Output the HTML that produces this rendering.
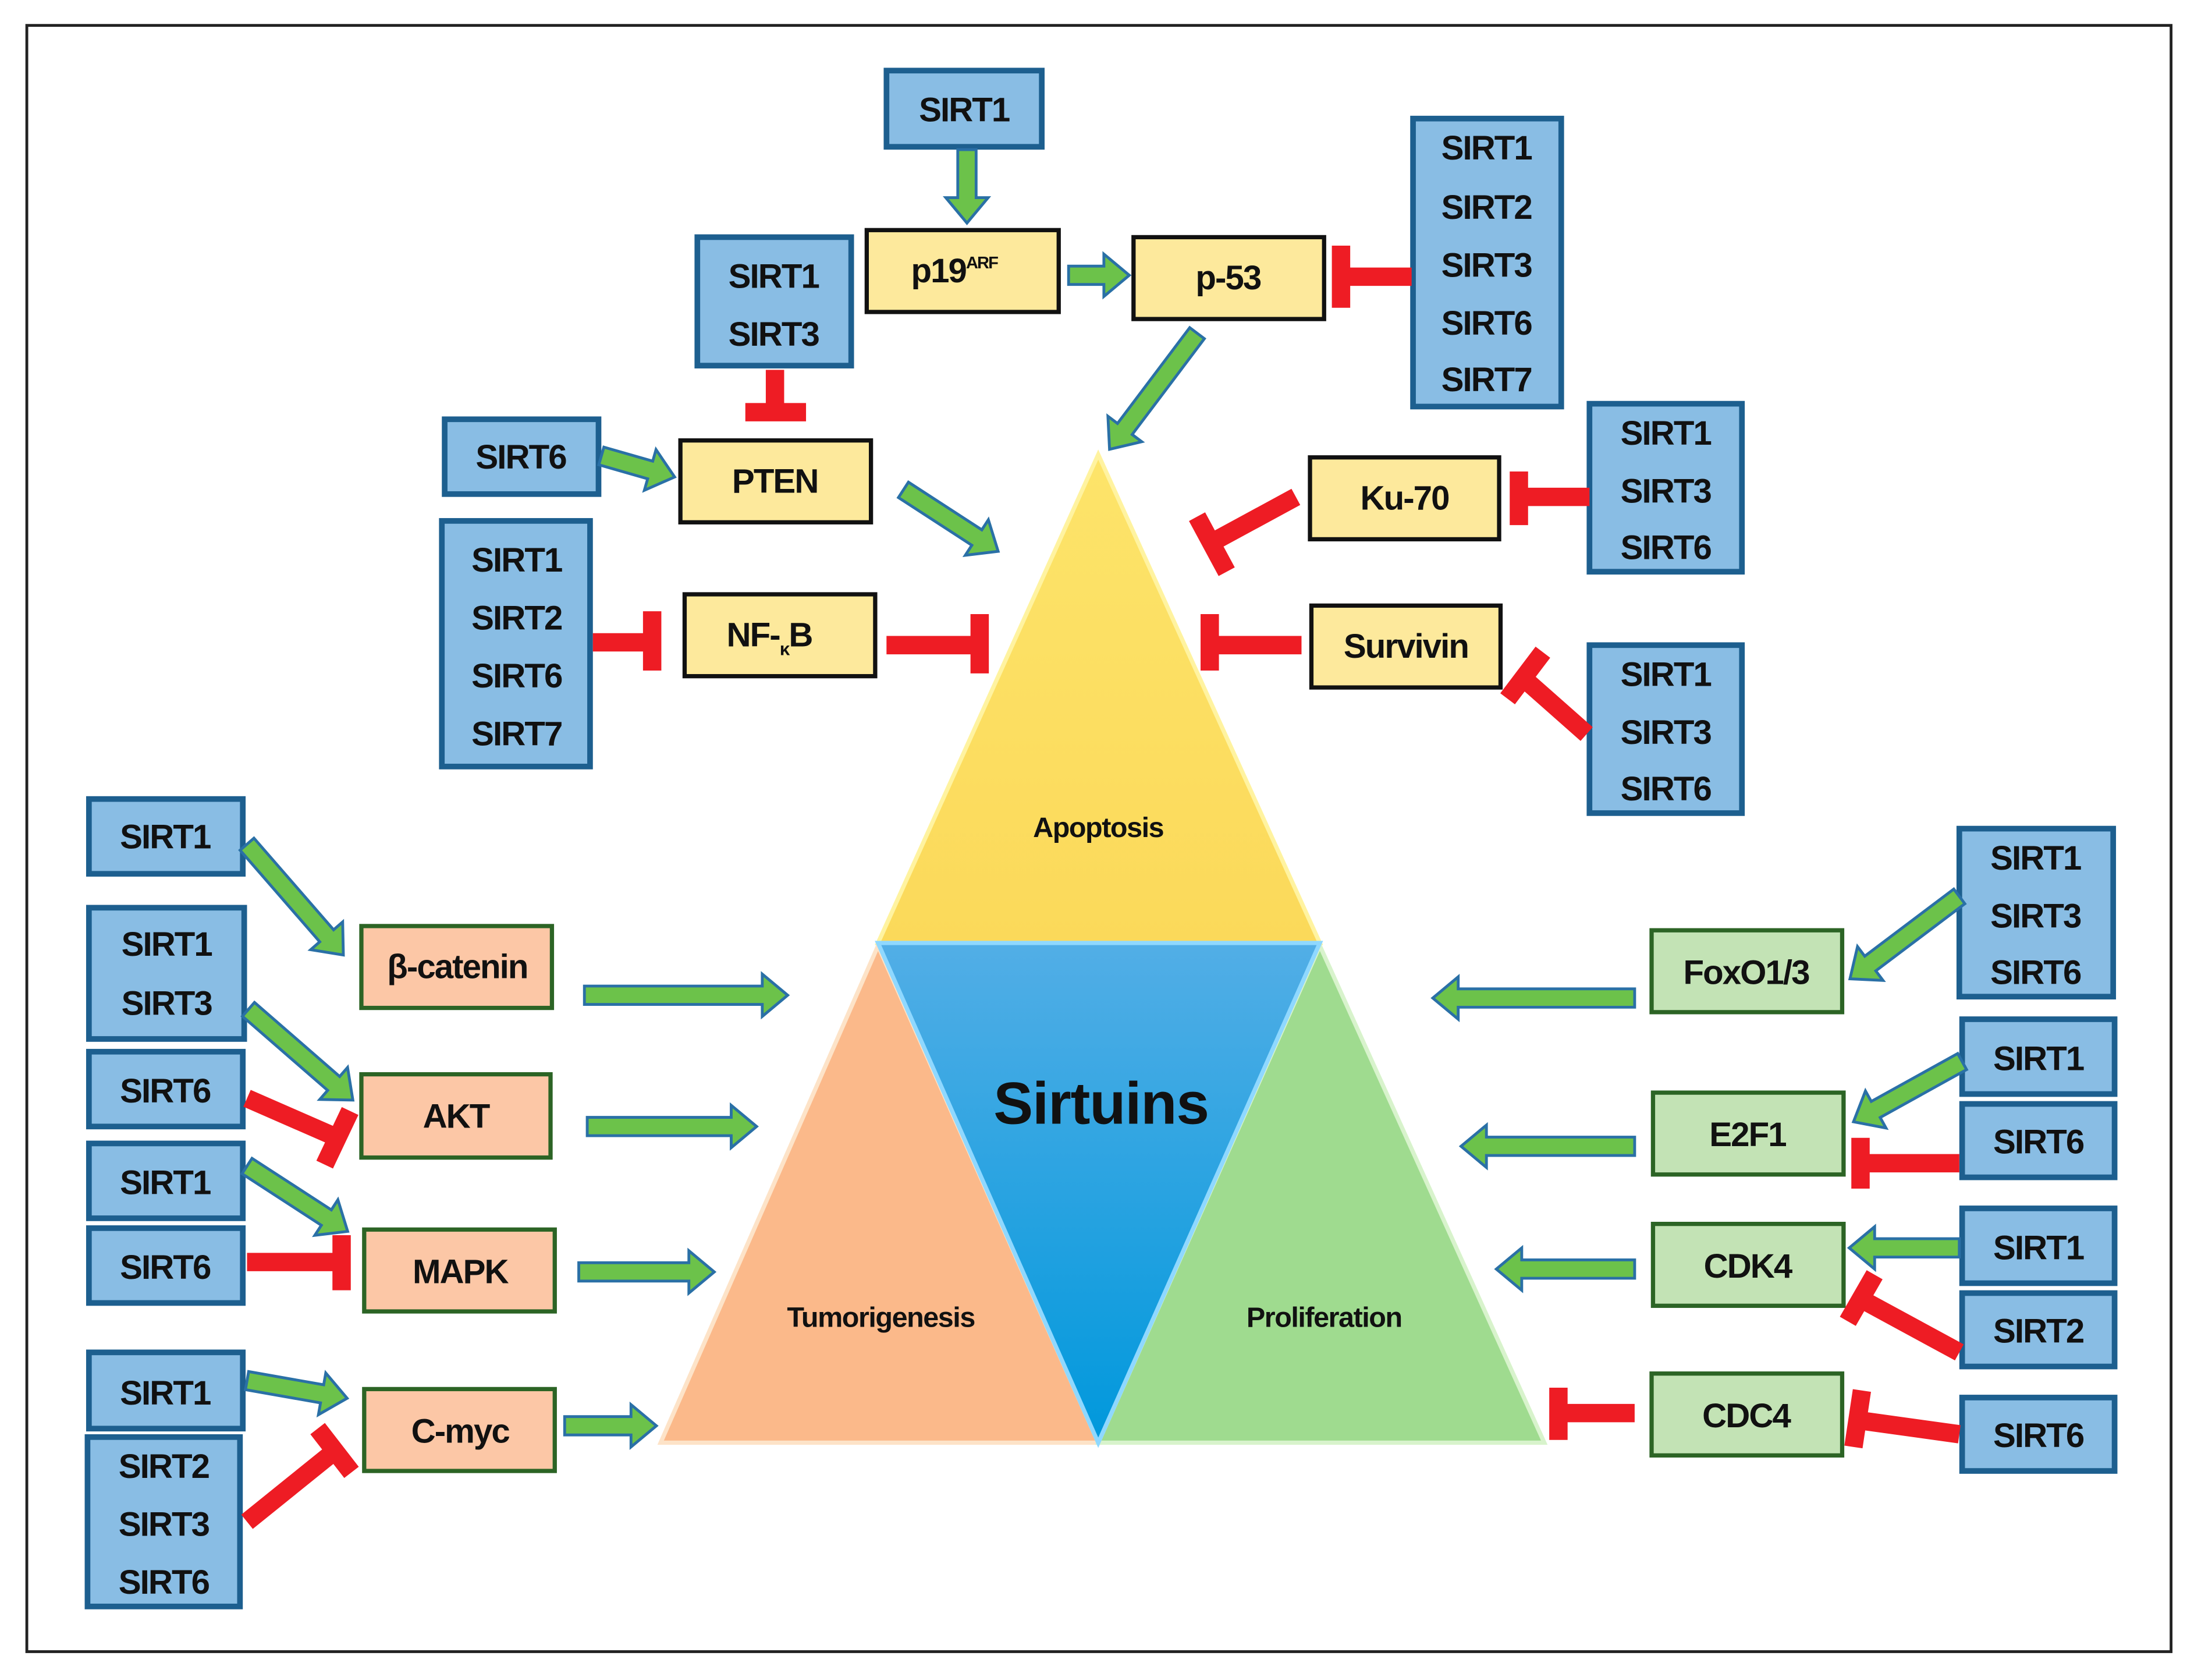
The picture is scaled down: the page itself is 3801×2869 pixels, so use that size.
<!DOCTYPE html>
<html><head><meta charset="utf-8"><style>
html,body{margin:0;padding:0;background:#fff;}
svg{display:block;}
text{font-family:"Liberation Sans",sans-serif;font-weight:bold;fill:#111;}
.b{fill:#89bde4;stroke:#1d5f8f;stroke-width:4;}
.y{fill:#fde99c;stroke:#111;stroke-width:3;}
.s{fill:#fcc7a6;stroke:#2c6425;stroke-width:3;}
.g{fill:#c3e3b5;stroke:#2c6425;stroke-width:3;}
.ar{fill:#6cc24a;stroke:#2a70a6;stroke-width:2;}
.r{stroke:#ee1c24;stroke-width:13;fill:none;}
.t{font-size:24px;text-anchor:middle;letter-spacing:-0.8px;}
</style></head><body>
<svg width="3801" height="2869" viewBox="0 0 1567 1183" preserveAspectRatio="none" xmlns="http://www.w3.org/2000/svg">
<defs>
<linearGradient id="gy" x1="0" y1="0" x2="0" y2="1"><stop offset="0" stop-color="#fde46a"/><stop offset="1" stop-color="#fbd95a"/></linearGradient>
<linearGradient id="gb" x1="0" y1="0" x2="0" y2="1"><stop offset="0" stop-color="#52aee6"/><stop offset="1" stop-color="#0098dc"/></linearGradient>
</defs>
<rect x="19" y="18" width="1519" height="1152" fill="#fff" stroke="#222" stroke-width="2"/>
<polygon points="778,322 935,668 622,668" fill="url(#gy)" stroke="#fff3a0" stroke-width="3"/>
<polygon points="622,670 778,1022 468,1022" fill="#fbb98a" stroke="#fde3c8" stroke-width="3"/>
<polygon points="935,670 1094,1022 778,1022" fill="#9fdb8f" stroke="#d8f3cc" stroke-width="3"/>
<polygon points="622,668 935,668 778,1022" fill="url(#gb)" stroke="#8fd8ff" stroke-width="3"/>
<text x="778" y="593" style="font-size:20px;text-anchor:middle;letter-spacing:-0.6px">Apoptosis</text>
<text x="780" y="796" style="font-size:42px;text-anchor:middle;letter-spacing:-0.5px">Sirtuins</text>
<text x="624" y="940" style="font-size:20px;text-anchor:middle;letter-spacing:-0.6px">Tumorigenesis</text>
<text x="938" y="940" style="font-size:20px;text-anchor:middle;letter-spacing:-0.6px">Proliferation</text>

<rect class="b" x="628" y="50" width="110" height="54"/><text class="t" x="683" y="86">SIRT1</text>
<rect class="b" x="494" y="168" width="109" height="91"/><text class="t" x="548" y="204">SIRT1</text><text class="t" x="548" y="245">SIRT3</text>
<rect class="b" x="315" y="297" width="109" height="53"/><text class="t" x="369" y="332">SIRT6</text>
<rect class="b" x="313" y="369" width="105" height="174"/><text class="t" x="366" y="405">SIRT1</text><text class="t" x="366" y="446">SIRT2</text><text class="t" x="366" y="487">SIRT6</text><text class="t" x="366" y="528">SIRT7</text>
<rect class="b" x="1001" y="84" width="105" height="204"/><text class="t" x="1053" y="113">SIRT1</text><text class="t" x="1053" y="155">SIRT2</text><text class="t" x="1053" y="196">SIRT3</text><text class="t" x="1053" y="237">SIRT6</text><text class="t" x="1053" y="277">SIRT7</text>
<rect class="b" x="1126" y="286" width="108" height="119"/><text class="t" x="1180" y="315">SIRT1</text><text class="t" x="1180" y="356">SIRT3</text><text class="t" x="1180" y="396">SIRT6</text>
<rect class="b" x="1126" y="457" width="108" height="119"/><text class="t" x="1180" y="486">SIRT1</text><text class="t" x="1180" y="527">SIRT3</text><text class="t" x="1180" y="567">SIRT6</text>
<rect class="b" x="63" y="566" width="109" height="53"/><text class="t" x="117" y="601">SIRT1</text>
<rect class="b" x="63" y="643" width="110" height="93"/><text class="t" x="118" y="677">SIRT1</text><text class="t" x="118" y="719">SIRT3</text>
<rect class="b" x="63" y="745" width="109" height="53"/><text class="t" x="117" y="781">SIRT6</text>
<rect class="b" x="63" y="810" width="109" height="53"/><text class="t" x="117" y="846">SIRT1</text>
<rect class="b" x="63" y="870" width="109" height="53"/><text class="t" x="117" y="906">SIRT6</text>
<rect class="b" x="63" y="958" width="109" height="54"/><text class="t" x="117" y="995">SIRT1</text>
<rect class="b" x="62" y="1018" width="108" height="120"/><text class="t" x="116" y="1047">SIRT2</text><text class="t" x="116" y="1088">SIRT3</text><text class="t" x="116" y="1129">SIRT6</text>
<rect class="b" x="1388" y="587" width="109" height="119"/><text class="t" x="1442" y="616">SIRT1</text><text class="t" x="1442" y="657">SIRT3</text><text class="t" x="1442" y="697">SIRT6</text>
<rect class="b" x="1390" y="722" width="108" height="53"/><text class="t" x="1444" y="758">SIRT1</text>
<rect class="b" x="1390" y="782" width="108" height="52"/><text class="t" x="1444" y="817">SIRT6</text>
<rect class="b" x="1390" y="856" width="108" height="53"/><text class="t" x="1444" y="892">SIRT1</text>
<rect class="b" x="1390" y="916" width="108" height="52"/><text class="t" x="1444" y="951">SIRT2</text>
<rect class="b" x="1390" y="990" width="108" height="52"/><text class="t" x="1444" y="1025">SIRT6</text>

<rect class="y" x="614" y="163" width="136" height="58"/><text class="t" x="676" y="200">p19<tspan style="font-size:12px" dy="-10">ARF</tspan></text>
<rect class="y" x="803" y="168" width="135" height="58"/><text class="t" x="870" y="205">p-53</text>
<rect class="y" x="482" y="312" width="135" height="58"/><text class="t" x="549" y="349">PTEN</text>
<rect class="y" x="485" y="421" width="135" height="58"/><text class="t" x="545" y="458">NF-<tspan style="font-size:13px" dy="6">κ</tspan><tspan dy="-6">B</tspan></text>
<rect class="y" x="928" y="324" width="134" height="58"/><text class="t" x="995" y="361">Ku-70</text>
<rect class="y" x="929" y="429" width="134" height="58"/><text class="t" x="996" y="466">Survivin</text>
<rect class="s" x="256" y="656" width="135" height="58"/><text class="t" x="324" y="693">β-catenin</text>
<rect class="s" x="256" y="761" width="134" height="59"/><text class="t" x="323" y="799">AKT</text>
<rect class="s" x="258" y="871" width="135" height="58"/><text class="t" x="326" y="909">MAPK</text>
<rect class="s" x="258" y="984" width="135" height="58"/><text class="t" x="326" y="1022">C-myc</text>
<rect class="g" x="1170" y="659" width="135" height="58"/><text class="t" x="1237" y="697">FoxO1/3</text>
<rect class="g" x="1171" y="774" width="135" height="58"/><text class="t" x="1238" y="812">E2F1</text>
<rect class="g" x="1171" y="867" width="135" height="58"/><text class="t" x="1238" y="905">CDK4</text>
<rect class="g" x="1170" y="973" width="135" height="58"/><text class="t" x="1237" y="1011">CDC4</text>

<g transform="translate(685,106) rotate(90)"><polygon class="ar" points="0,-6.5 34,-6.5 34,-15 52,0 34,15 34,6.5 0,6.5"/></g>
<g transform="translate(757,195)"><polygon class="ar" points="0,-6.5 25,-6.5 25,-15 43,0 25,15 25,6.5 0,6.5"/></g>
<g transform="translate(848,236) rotate(127)"><polygon class="ar" points="0,-6.5 85,-6.5 85,-15 103,0 85,15 85,6.5 0,6.5"/></g>
<g transform="translate(426,323) rotate(16)"><polygon class="ar" points="0,-6.5 36,-6.5 36,-15 54,0 36,15 36,6.5 0,6.5"/></g>
<g transform="translate(640,347) rotate(33)"><polygon class="ar" points="0,-6.5 62,-6.5 62,-15 80,0 62,15 62,6.5 0,6.5"/></g>
<g transform="translate(175,598) rotate(49)"><polygon class="ar" points="0,-6.5 86,-6.5 86,-15 104,0 86,15 86,6.5 0,6.5"/></g>
<g transform="translate(414,705)"><polygon class="ar" points="0,-6.5 126,-6.5 126,-15 144,0 126,15 126,6.5 0,6.5"/></g>
<g transform="translate(176,715) rotate(41)"><polygon class="ar" points="0,-6.5 80,-6.5 80,-15 98,0 80,15 80,6.5 0,6.5"/></g>
<g transform="translate(416,798)"><polygon class="ar" points="0,-6.5 102,-6.5 102,-15 120,0 102,15 102,6.5 0,6.5"/></g>
<g transform="translate(175,826) rotate(33)"><polygon class="ar" points="0,-6.5 67,-6.5 67,-15 85,0 67,15 67,6.5 0,6.5"/></g>
<g transform="translate(410,901)"><polygon class="ar" points="0,-6.5 78,-6.5 78,-15 96,0 78,15 78,6.5 0,6.5"/></g>
<g transform="translate(175,978) rotate(10)"><polygon class="ar" points="0,-6.5 54,-6.5 54,-15 72,0 54,15 54,6.5 0,6.5"/></g>
<g transform="translate(400,1010)"><polygon class="ar" points="0,-6.5 47,-6.5 47,-15 65,0 47,15 47,6.5 0,6.5"/></g>
<g transform="translate(1158,707) rotate(180)"><polygon class="ar" points="0,-6.5 125,-6.5 125,-15 143,0 125,15 125,6.5 0,6.5"/></g>
<g transform="translate(1388,635) rotate(143)"><polygon class="ar" points="0,-6.5 79,-6.5 79,-15 97,0 79,15 79,6.5 0,6.5"/></g>
<g transform="translate(1158,812) rotate(180)"><polygon class="ar" points="0,-6.5 105,-6.5 105,-15 123,0 105,15 105,6.5 0,6.5"/></g>
<g transform="translate(1390,752) rotate(151)"><polygon class="ar" points="0,-6.5 70,-6.5 70,-15 88,0 70,15 70,6.5 0,6.5"/></g>
<g transform="translate(1158,899) rotate(180)"><polygon class="ar" points="0,-6.5 80,-6.5 80,-15 98,0 80,15 80,6.5 0,6.5"/></g>
<g transform="translate(1388,884) rotate(180)"><polygon class="ar" points="0,-6.5 60,-6.5 60,-15 78,0 60,15 60,6.5 0,6.5"/></g>

<path class="r" d="M549,262 L549,292 M528,292 L571,292"/>
<path class="r" d="M1000,196 L950,196 M950,174 L950,218"/>
<path class="r" d="M420,455 L462,455 M462,433 L462,475"/>
<path class="r" d="M628,457 L694,457 M694,435 L694,477"/>
<path class="r" d="M918,352 L859,384 M848,366 L869,405"/>
<path class="r" d="M1126,352 L1076,352 M1076,334 L1076,372"/>
<path class="r" d="M922,457 L857,457 M857,435 L857,475"/>
<path class="r" d="M1124,520 L1081,482 M1068,495 L1093,462"/>
<path class="r" d="M175,778 L239,806 M230,825 L248,787"/>
<path class="r" d="M175,894 L242,894 M242,875 L242,914"/>
<path class="r" d="M175,1078 L237,1028 M225,1012 L249,1043"/>
<path class="r" d="M1388,824 L1318,824 M1318,806 L1318,842"/>
<path class="r" d="M1388,958 L1318,920 M1309,936 L1328,903"/>
<path class="r" d="M1158,1001 L1104,1001 M1104,983 L1104,1020"/>
<path class="r" d="M1388,1016 L1316,1006 M1319,985 L1313,1025"/>
</svg>
</body></html>
